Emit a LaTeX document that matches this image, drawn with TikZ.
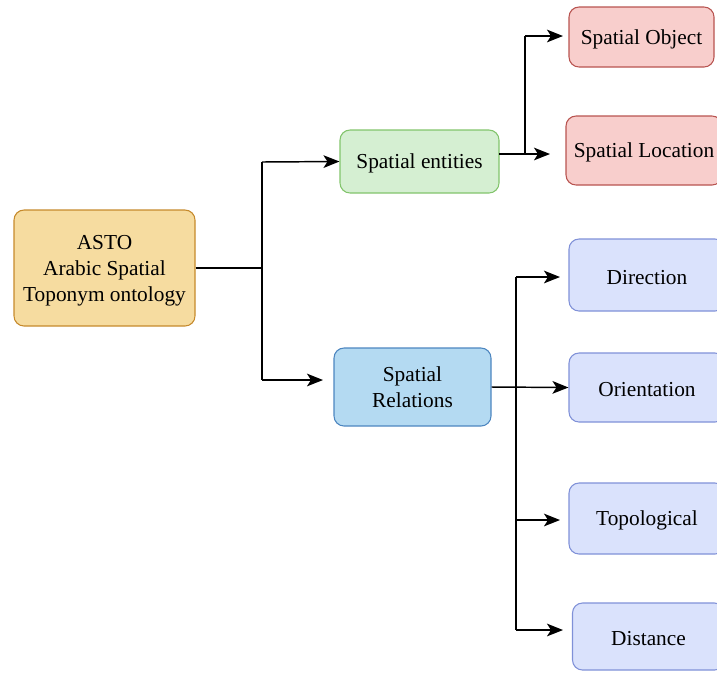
\documentclass[tikz,border=0pt]{standalone}
\usepackage{fontspec}
\setmainfont{Liberation Serif}
\usetikzlibrary{arrows.meta}

\definecolor{astoFill}{HTML}{F6DCA0}
\definecolor{astoLine}{HTML}{C68A2C}
\definecolor{entFill}{HTML}{D5EFD2}
\definecolor{entLine}{HTML}{82C46C}
\definecolor{relFill}{HTML}{B4DAF2}
\definecolor{relLine}{HTML}{4D86C0}
\definecolor{redFill}{HTML}{F8CECC}
\definecolor{redLine}{HTML}{B85450}
\definecolor{bluFill}{HTML}{DAE2FC}
\definecolor{bluLine}{HTML}{8091D8}

\begin{document}
\begin{tikzpicture}[x=0.75pt, y=-0.75pt,
  box/.style={draw, rounded corners=7.5pt, line width=0.8pt, align=center,
    inner sep=0pt, text height=14pt, font=\fontsize{16}{19.5}\selectfont},
  multi/.style={text height=, text depth=#1},
  link/.style={line width=1.1pt},
  arr/.style={line width=1.1pt, -{Stealth[length=12pt, width=9.5pt, inset=3pt]}}]
\useasboundingbox (0, 0) rectangle (717, 672);
%Boxes
\node (asto) at (104.5, 268) [box, multi=-3.3pt, fill=astoFill, draw=astoLine, minimum width=135.75pt, minimum height=87pt] {ASTO\\Arabic Spatial\\Toponym ontology};
\node (entities) at (419.5, 161.5) [box, fill=entFill, draw=entLine, minimum width=119.25pt, minimum height=47.25pt] {Spatial entities};
\node (relations) at (412.5, 387) [box, multi=-3.8pt, fill=relFill, draw=relLine, minimum width=117.75pt, minimum height=58.5pt] {Spatial\\Relations};
\node (object) at (641.5, 37) [box, fill=redFill, draw=redLine, minimum width=108.75pt, minimum height=45pt] {Spatial Object};
\node (location) at (644, 150.5) [box, fill=redFill, draw=redLine, minimum width=117pt, minimum height=51.75pt] {Spatial Location};
\node (direction) at (647, 275) [box, fill=bluFill, draw=bluLine, minimum width=117pt, minimum height=54pt] {Direction};
\node (orientation) at (647, 387.5) [box, fill=bluFill, draw=bluLine, minimum width=117pt, minimum height=51.75pt] {Orientation};
\node (topological) at (647, 518.5) [box, fill=bluFill, draw=bluLine, minimum width=117pt, minimum height=53.25pt] {Topological};
\node (distance) at (648.5, 636.5) [box, fill=bluFill, draw=bluLine, minimum width=114pt, minimum height=50.25pt] {Distance};
%Links
\coordinate (jA) at (262, 268);
\coordinate (relIn) at (323, 380);
\coordinate (eOut) at (499, 154);
\coordinate (jB) at (525, 154);
\coordinate (locIn) at (550, 154);
\coordinate (objIn) at (563, 36);
\coordinate (jC) at (516, 387);
\coordinate (dirIn) at (560, 277);
\coordinate (topIn) at (560, 520);
\coordinate (disIn) at (563, 630);
\draw [link] (asto.east) -- (jA);
\draw [link] (jA |- 0, 162) -- (jA |- relIn);
\draw [arr] (jA |- 0, 162) -- (entities.west);
\draw [arr] (jA |- relIn) -- (relIn);
\draw [arr] (eOut) -- (locIn);
\draw [link] (jB) -- (jB |- objIn);
\draw [arr] (jB |- objIn) -- (objIn);
\draw [arr] (relations.east) -- (orientation.west);
\draw [link] (jC |- dirIn) -- (jC |- disIn);
\draw [arr] (jC |- dirIn) -- (dirIn);
\draw [arr] (jC |- topIn) -- (topIn);
\draw [arr] (jC |- disIn) -- (disIn);
\end{tikzpicture}
\end{document}
